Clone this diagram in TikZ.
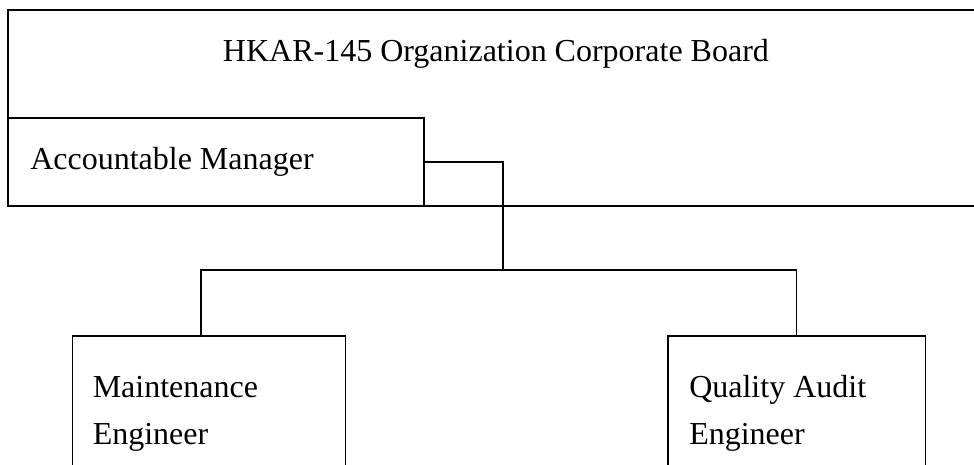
\documentclass[tikz,border=0pt]{standalone}
\usepackage{fontspec}
\setmainfont{Liberation Serif}
\usetikzlibrary{fit}
\tikzset{%
    orgbox/.style={draw, line width=0.9pt, inner sep=0pt},
    orgtext/.style={inner sep=0pt, anchor=base west, align=left,
        font=\fontsize{24}{35.25}\selectfont},
    link/.style={draw, line width=0.8pt}
}

\begin{document}
\begin{tikzpicture}[x=0.75pt, y=-0.75pt]
\clip (0,0) rectangle (974,464);
    \node [orgbox, fit={(8,10) (990,206)}] (board) {};
    \node [orgbox, fit={(8,118) (424,206)}] (am) {};
    \node [orgbox, fit={(72.5,336) (345.5,500)}] (maint) {};
    \node [orgbox, fit={(668,336) (925.5,500)}] (audit) {};
    \node [orgtext] (boardtext) at (222.7,61) {HKAR-145 Organization Corporate Board};
    \node [orgtext] (amtext) at (30,169) {Accountable Manager};
    % two-line nodes: base sits lower than the first line
    \node [orgtext] (mainttext) at (92.5,444) {Maintenance\\Engineer};
    \node [orgtext] (audittext) at (689,444) {Quality Audit\\Engineer};
    \coordinate (hub) at (503,270);
    \draw [link] (am.east) -| (hub);
    \draw [link] ([xshift=-6pt]maint.north) |- (hub) -| (audit.north);
\end{tikzpicture}
\end{document}
